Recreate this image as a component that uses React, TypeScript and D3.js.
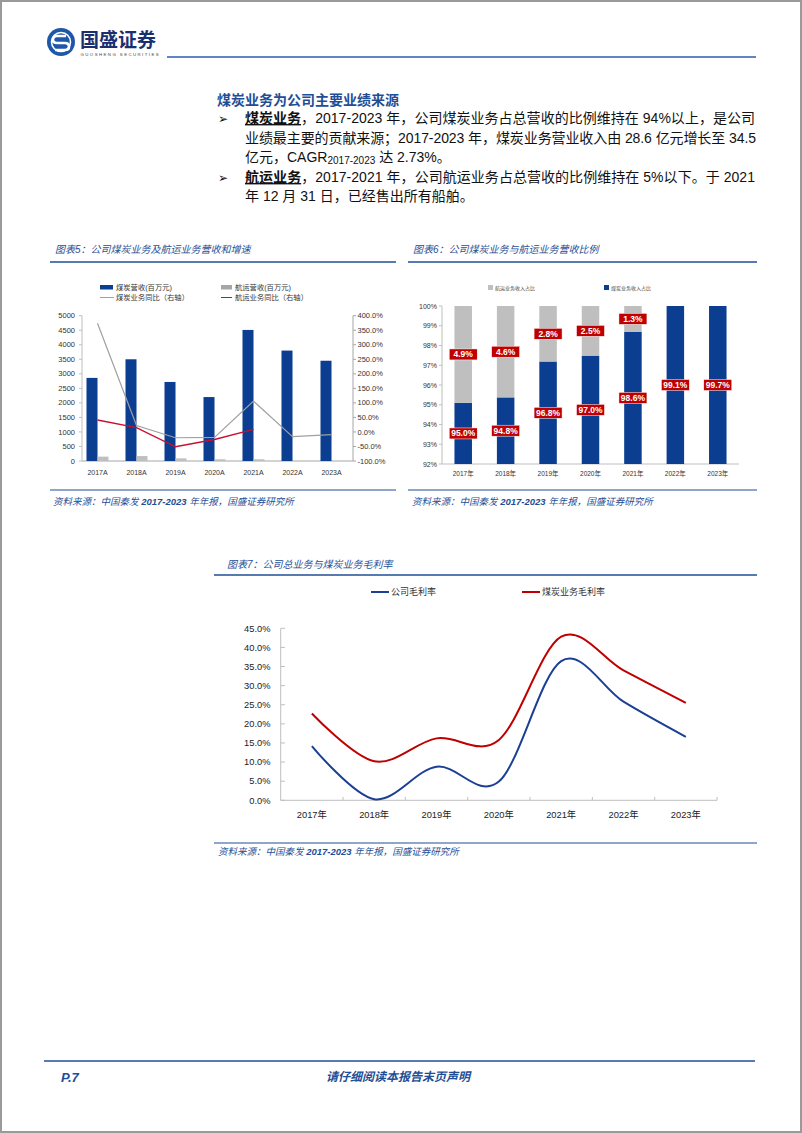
import React from 'react';
import * as d3 from 'd3';

// ---------- Chart 5 data ----------
const years5 = ['2017A', '2018A', '2019A', '2020A', '2021A', '2022A', '2023A'];
const coalRevenue = [2860, 3500, 2720, 2200, 4510, 3800, 3450];
const shipRevenue = [150, 170, 90, 60, 60, 0, 0];
const coalYoY = [374, 22, -20, -19, 106, -16, -9];
const shipYoY = [41, 15, -51, -26, 9];
const leftTicks5 = [0, 500, 1000, 1500, 2000, 2500, 3000, 3500, 4000, 4500, 5000];
const rightTicks5 = [-100, -50, 0, 50, 100, 150, 200, 250, 300, 350, 400];

// ---------- Chart 6 data ----------
const years6 = ['2017年', '2018年', '2019年', '2020年', '2021年', '2022年', '2023年'];
const coalShare = [95.0, 94.8, 96.8, 97.0, 98.6, 99.1, 99.7];
const shipShare = [4.9, 4.6, 2.8, 2.5, 1.3, 0, 0];
const ticks6 = [92, 93, 94, 95, 96, 97, 98, 99, 100];

// ---------- Chart 7 data ----------
const years7 = ['2017年', '2018年', '2019年', '2020年', '2021年', '2022年', '2023年'];
const companyMargin = [14.2, 0.3, 8.8, 4.9, 36.4, 25.8, 16.6];
const coalMargin = [22.7, 10.2, 16.2, 15.8, 42.8, 34.0, 25.5];
const ticks7 = [0, 5, 10, 15, 20, 25, 30, 35, 40, 45];

const BLUE = '#0B3D91';
const TBLUE = '#1F4E96';
const GRAY = '#BFBFBF';
const RED = '#C00000';
const NUM = '"Liberation Sans", Arial, "Noto Sans CJK SC", sans-serif';
const CJK = '"Liberation Sans", "Noto Sans CJK SC", sans-serif';

function Chart5() {
  const x = d3.scaleBand<string>().domain(years5).range([78, 351]);
  const yL = d3.scaleLinear().domain([0, 5000]).range([461, 315.7]);
  const yR = d3.scaleLinear().domain([-100, 400]).range([461, 315.7]);
  const cx = (d: string) => (x(d) as number) + x.bandwidth() / 2;
  const line = d3.line<number>().x((_, i) => cx(years5[i])).y((v) => yR(v));
  return (
    <g>
      {/* legend */}
      <rect x={100} y={285} width={13} height={4.5} fill={BLUE} />
      <text x={116} y={289.5} fontSize={7.3} fontFamily={CJK} fill="#333">煤炭营收(百万元)</text>
      <rect x={221} y={285} width={11} height={4.5} fill="#A6A6A6" />
      <text x={235} y={289.5} fontSize={7.3} fontFamily={CJK} fill="#333">航运营收(百万元)</text>
      <line x1={100} x2={114} y1={297.5} y2={297.5} stroke="#A0A0A0" strokeWidth={1} />
      <text x={116} y={300} fontSize={7.3} fontFamily={CJK} fill="#333">煤炭业务同比（右轴）</text>
      <line x1={221} x2={232} y1={297.5} y2={297.5} stroke="#C8102E" strokeWidth={1} />
      <text x={235} y={300} fontSize={7.3} fontFamily={CJK} fill="#333">航运业务同比（右轴）</text>

      {/* axes */}
      <line x1={82} x2={82} y1={315.7} y2={461} stroke="#BFBFBF" />
      <line x1={353} x2={353} y1={315.7} y2={461} stroke="#A6A6A6" />
      <line x1={82} x2={353} y1={461} y2={461} stroke="#A6A6A6" />
      {leftTicks5.map((t) => (
        <g key={'l' + t}>
          <line x1={79} x2={82} y1={yL(t)} y2={yL(t)} stroke="#BFBFBF" />
          <text x={75} y={yL(t) + 2.6} fontSize={7.5} textAnchor="end" fontFamily={NUM} fill="#333">{t}</text>
        </g>
      ))}
      {rightTicks5.map((t) => (
        <g key={'r' + t}>
          <line x1={353} x2={356} y1={yR(t)} y2={yR(t)} stroke="#A6A6A6" />
          <text x={357.5} y={yR(t) + 2.6} fontSize={7.5} fontFamily={NUM} fill="#333">{t.toFixed(1)}%</text>
        </g>
      ))}
      {/* bars */}
      {years5.map((d, i) => (
        <g key={d}>
          <rect x={cx(d) - 11} y={yL(coalRevenue[i])} width={11} height={461 - yL(coalRevenue[i])} fill={BLUE} />
          <rect x={cx(d)} y={yL(shipRevenue[i])} width={11} height={461 - yL(shipRevenue[i])} fill={GRAY} />
          <text x={cx(d)} y={475} fontSize={7} textAnchor="middle" fontFamily={NUM} fill="#333">{d}</text>
        </g>
      ))}
      <path d={line(coalYoY) as string} fill="none" stroke="#A0A0A0" strokeWidth={1.2} />
      <path d={line(shipYoY) as string} fill="none" stroke="#C8102E" strokeWidth={1.4} />
    </g>
  );
}

function Chart6() {
  const x = d3.scaleBand<string>().domain(years6).range([442, 739]);
  const y = d3.scaleLinear().domain([0.92, 1]).range([464, 306]).clamp(true);
  const rows = years6.map((d, i) => ({ year: d, coal: coalShare[i], ship: shipShare[i] }));
  const stack = d3.stack<any>().keys(['coal', 'ship']).offset(d3.stackOffsetExpand);
  const series = stack(rows);
  const cx = (d: string) => (x(d) as number) + x.bandwidth() / 2;
  const bw = 17.5;
  const label = (xc: number, yc: number, v: number, k: string) => (
    <g key={k}>
      <rect x={xc - 14} y={yc - 5.5} width={28} height={11} fill={RED} stroke="#fff" strokeWidth={0.5} />
      <text x={xc} y={yc + 3} fontSize={8.5} fontWeight="bold" textAnchor="middle" fontFamily={NUM} fill="#fff">{v.toFixed(1)}%</text>
    </g>
  );
  return (
    <g>
      <rect x={488} y={285} width={5} height={5} fill={GRAY} />
      <text x={495} y={289.5} fontSize={5} fontFamily={CJK} fill="#444">航运业务收入占比</text>
      <rect x={604} y={285} width={5} height={5} fill={BLUE} />
      <text x={611} y={289.5} fontSize={5} fontFamily={CJK} fill="#444">煤炭业务收入占比</text>

      <line x1={442} x2={442} y1={306} y2={464} stroke="#BFBFBF" />
      <line x1={442} x2={739} y1={464} y2={464} stroke="#BFBFBF" />
      {ticks6.map((t) => (
        <g key={t}>
          <line x1={439} x2={442} y1={y(t / 100)} y2={y(t / 100)} stroke="#BFBFBF" />
          <text x={437} y={y(t / 100) + 2.5} fontSize={7} textAnchor="end" fontFamily={NUM} fill="#333">{t}%</text>
        </g>
      ))}
      {series.map((s, si) =>
        s.map((p, i) => (
          <rect key={si + '-' + i} x={cx(years6[i]) - bw / 2} y={y(p[1])} width={bw}
            height={Math.max(0, y(p[0]) - y(p[1]))} fill={si === 0 ? BLUE : GRAY} />
        ))
      )}
      {years6.map((d) => (
        <text key={d} x={cx(d)} y={476} fontSize={6.5} textAnchor="middle" fontFamily={CJK} fill="#333">{d}</text>
      ))}
      {series[0].map((p, i) => label(cx(years6[i]), (y(p[0]) + y(p[1])) / 2, coalShare[i], 'c' + i))}
      {series[1].map((p, i) =>
        shipShare[i] > 0 ? label(cx(years6[i]), (y(p[0]) + y(p[1])) / 2, shipShare[i], 's' + i) : null
      )}
    </g>
  );
}

function Chart7() {
  const x = d3.scaleBand<string>().domain(years7).range([280.7, 717]);
  const y = d3.scaleLinear().domain([0, 45]).range([800.3, 628.3]);
  const cx = (d: string) => (x(d) as number) + x.bandwidth() / 2;
  const line = d3.line<number>().x((_, i) => cx(years7[i])).y((v) => y(v)).curve(d3.curveCardinal.tension(0));
  return (
    <g>
      <line x1={371} x2={389} y1={592} y2={592} stroke="#1A3F94" strokeWidth={2} />
      <text x={391} y={595} fontSize={9} fontFamily={CJK} fill="#333">公司毛利率</text>
      <line x1={522} x2={540} y1={592} y2={592} stroke={RED} strokeWidth={2} />
      <text x={542} y={595} fontSize={9} fontFamily={CJK} fill="#333">煤炭业务毛利率</text>

      <line x1={280.7} x2={280.7} y1={628.3} y2={800.3} stroke="#BFBFBF" />
      <line x1={280.7} x2={717} y1={800.3} y2={800.3} stroke="#BFBFBF" />
      {ticks7.map((t) => (
        <g key={t}>
          <line x1={280.7} x2={285} y1={y(t)} y2={y(t)} stroke="#BFBFBF" />
          <text x={270.5} y={y(t) + 3.3} fontSize={9.3} textAnchor="end" fontFamily={NUM} fill="#222">{t.toFixed(1)}%</text>
        </g>
      ))}
      {years7.map((d) => (
        <g key={d}>
          <line x1={(x(d) as number) + x.bandwidth()} x2={(x(d) as number) + x.bandwidth()} y1={797} y2={800.3} stroke="#BFBFBF" />
          <text x={cx(d)} y={818} fontSize={9.3} textAnchor="middle" fontFamily={CJK} fill="#222">{d}</text>
        </g>
      ))}
      <path d={line(coalMargin) as string} fill="none" stroke={RED} strokeWidth={2} />
      <path d={line(companyMargin) as string} fill="none" stroke="#1A3F94" strokeWidth={2} />
    </g>
  );
}

export default function App() {
  const bodyFont = CJK;
  return (
    <div style={{ position: 'absolute', left: 0, top: 0 }}>
      <svg width={802} height={1133} viewBox="0 0 802 1133" style={{ display: 'block', background: '#fff' }}>
        <rect x={1} y={1} width={800} height={1131} fill="#fff" stroke="#9A9A9A" strokeWidth={2} />

        {/* header */}
        <circle cx={61} cy={42} r={14} fill="#1E56A8" />
        <circle cx={61} cy={42} r={9.5} fill="none" stroke="#fff" strokeWidth={1.6} />
        <path d="M66,36 L57,36 Q53,36 53,40 Q53,43 57,43 L65,43 Q69,43 69,47 Q69,50 65,50 L55,50" fill="none" stroke="#fff" strokeWidth={2.6} />
        <text x={80} y={46.5} fontSize={19} fontWeight="bold" fontFamily='"Noto Sans CJK SC", sans-serif' fill="#1B2F6E">国盛证券</text>
        <text x={80.5} y={56} fontSize={4.3} letterSpacing={1.45} fontFamily={NUM} fill="#444">GUOSHENG SECURITIES</text>
        <line x1={167} x2={756} y1={57} y2={57} stroke="#2C5DAA" strokeWidth={1.5} />

        {/* body text */}
        <text x={217} y={105} fontSize={14} fontWeight="bold" fontFamily={bodyFont} fill={TBLUE}>煤炭业务为公司主要业绩来源</text>
        {[123, 182].map((yy) => (
          <text key={yy} x={218} y={yy} fontSize={12} fontFamily='"DejaVu Sans", sans-serif' fill="#111">➢</text>
        ))}
        <text x={245} y={123} fontSize={14} fontFamily={bodyFont} fill="#111" textLength={510} lengthAdjust="spacing">
          <tspan fontWeight="bold" textDecoration="underline">煤炭业务</tspan>，2017-2023 年，公司煤炭业务占总营收的比例维持在 94%以上，是公司
        </text>
        <text x={245} y={143} fontSize={14} fontFamily={bodyFont} fill="#111" textLength={511} lengthAdjust="spacing">
          业绩最主要的贡献来源；2017-2023 年，煤炭业务营业收入由 28.6 亿元增长至 34.5
        </text>
        <text x={245} y={162} fontSize={14} fontFamily={bodyFont} fill="#111">
          亿元，CAGR<tspan fontSize={10} dy={2}>2017-2023</tspan><tspan dy={-2}> 达 2.73%。</tspan>
        </text>
        <text x={245} y={182} fontSize={14} fontFamily={bodyFont} fill="#111" textLength={510} lengthAdjust="spacing">
          <tspan fontWeight="bold" textDecoration="underline">航运业务</tspan>，2017-2021 年，公司航运业务占总营收的比例维持在 5%以下。于 2021
        </text>
        <text x={245} y={201} fontSize={14} fontFamily={bodyFont} fill="#111">年 12 月 31 日，已经售出所有船舶。</text>

        {/* chart titles */}
        <text x={55} y={253} fontSize={10} fontStyle="italic" fontFamily={bodyFont} fill={TBLUE}>图表5：公司煤炭业务及航运业务营收和增速</text>
        <line x1={50} x2={396} y1={262} y2={262} stroke={TBLUE} strokeWidth={1.5} />
        <text x={413} y={253} fontSize={10} fontStyle="italic" fontFamily={bodyFont} fill={TBLUE}>图表6：公司煤炭业务与航运业务营收比例</text>
        <line x1={408} x2={757} y1={262} y2={262} stroke={TBLUE} strokeWidth={1.5} />

        <Chart5 />
        <Chart6 />

        <line x1={50} x2={396} y1={490} y2={490} stroke={TBLUE} strokeWidth={1.2} />
        <line x1={408} x2={757} y1={490} y2={490} stroke={TBLUE} strokeWidth={1.2} />
        <text x={53} y={505} fontSize={9.5} fontStyle="italic" fontFamily={bodyFont} fill={TBLUE}>资料来源：中国秦发 <tspan fontWeight="bold">2017-2023</tspan> 年年报，国盛证券研究所</text>
        <text x={412} y={505} fontSize={9.5} fontStyle="italic" fontFamily={bodyFont} fill={TBLUE}>资料来源：中国秦发 <tspan fontWeight="bold">2017-2023</tspan> 年年报，国盛证券研究所</text>

        <text x={227} y={568} fontSize={10} fontStyle="italic" fontFamily={bodyFont} fill={TBLUE}>图表7：公司总业务与煤炭业务毛利率</text>
        <line x1={214} x2={757} y1={575} y2={575} stroke={TBLUE} strokeWidth={1.5} />

        <Chart7 />

        <line x1={214} x2={757} y1={843} y2={843} stroke={TBLUE} strokeWidth={1.2} />
        <text x={218} y={855} fontSize={9.5} fontStyle="italic" fontFamily={bodyFont} fill={TBLUE}>资料来源：中国秦发 <tspan fontWeight="bold">2017-2023</tspan> 年年报，国盛证券研究所</text>

        {/* footer */}
        <line x1={44} x2={755} y1={1061} y2={1061} stroke={TBLUE} strokeWidth={1.5} />
        <text x={61} y={1082} fontSize={13} fontWeight="bold" fontStyle="italic" fontFamily={NUM} fill={TBLUE}>P.7</text>
        <text x={398} y={1081} fontSize={12} fontWeight="bold" fontStyle="italic" textAnchor="middle" fontFamily={bodyFont} fill={TBLUE}>请仔细阅读本报告末页声明</text>
      </svg>
    </div>
  );
}
